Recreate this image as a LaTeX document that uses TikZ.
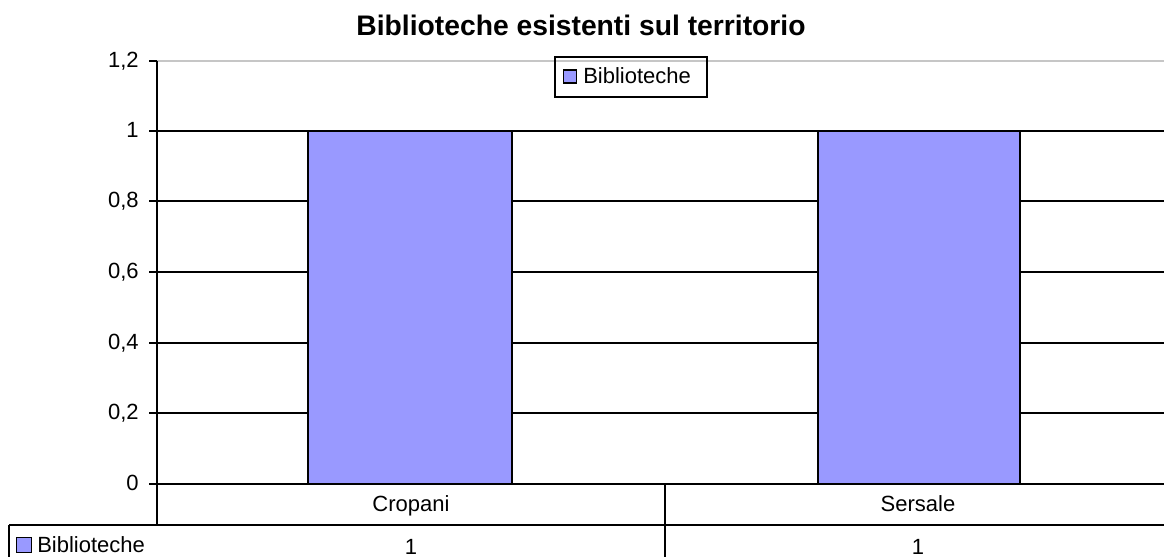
\documentclass[tikz,border=0pt]{standalone}
\usepackage{fontspec}
\setmainfont{Liberation Sans}
\definecolor{barblue}{HTML}{9999FF}
\tikzstyle{gridline}=[line width=1.8pt]
\tikzstyle{bar}=[draw, line width=1.5pt, fill=barblue]
\tikzstyle{keybox}=[draw, line width=1.2pt, fill=barblue, inner sep=0, minimum size=10pt]
\tikzstyle{chartfont}=[font=\fontsize{16.5pt}{18pt}\selectfont]
\tikzstyle{ticklabel}=[chartfont, inner sep=0, anchor=base east]
\tikzstyle{celltext}=[chartfont, inner sep=0, anchor=base]
\begin{document}
\begin{tikzpicture}[x=0.75pt, y=-0.75pt]
        \useasboundingbox (0, 0) rectangle (1164, 557);
        \node[font=\bfseries\fontsize{21.2pt}{23pt}\selectfont, inner sep=0, anchor=base] (title) at (581, 35) {Biblioteche esistenti sul territorio};
        % plot area
        \draw[gray!45, line width=1.2pt] (157, 61) -- (1164, 61);
        \foreach \y in {131, 201, 272, 343, 413} {
            \draw[gridline] (157, \y) -- (1164, \y);
        }
        \foreach \v/\y in {1{,}2/61, 1/131, 0{,}8/201, 0{,}6/272, 0{,}4/343, 0{,}2/413, 0/484} {
            \draw[gridline] (149, \y) -- (157, \y);
            \node[ticklabel] at (139, \y + 6) {\v};
        }
        \draw[bar] (308, 131) rectangle (512, 484);
        \draw[bar] (818, 131) rectangle (1020, 484);
        \draw[gridline] (157, 61) -- (157, 525);
        % legend
        \node[draw, line width=1.5pt, minimum width=114pt, minimum height=30pt, inner sep=0] (legend) at (631, 77) {};
        \node[keybox] (legendkey) at (570, 76.5) {};
        \node[celltext, anchor=base west] (legendtext) at (583, 83) {Biblioteche};
        % data table
        \draw[gridline] (157, 484) -- (1164, 484);
        \draw[gridline] (9, 525) -- (1164, 525);
        \draw[gridline] (9, 525) -- (9, 557);
        \draw[gridline] (665, 484) -- (665, 557);
        \node[celltext] (cropani) at (411, 511) {Cropani};
        \node[celltext] (sersale) at (918, 511) {Sersale};
        \node[keybox, minimum size=11pt] (tablekey) at (24, 545) {};
        \node[celltext, anchor=base west] (tabletext) at (37, 552) {Biblioteche};
        \node[celltext] (cropanival) at (411, 554) {1};
        \node[celltext] (sersaleval) at (918, 554) {1};
    \end{tikzpicture}
\end{document}
